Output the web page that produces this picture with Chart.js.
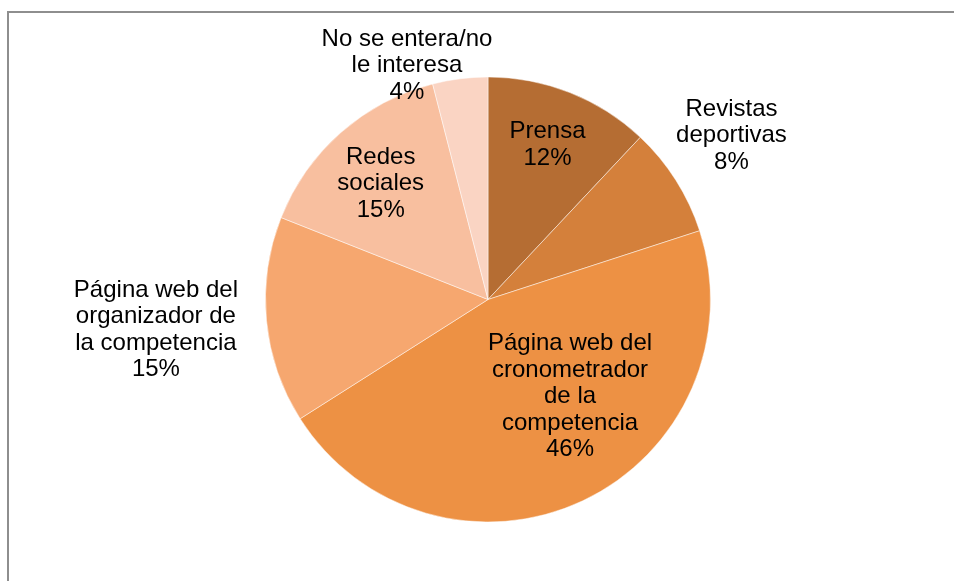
<!DOCTYPE html>
<html>
<head>
<meta charset="utf-8">
<script src="https://cdn.jsdelivr.net/npm/chart.js@4/dist/chart.umd.min.js"></script>
<style>
  html, body { margin: 0; padding: 0; background: #fff; }
  #wrap { position: relative; width: 954px; height: 581px; overflow: hidden; }
  #frame { position: absolute; left: 7px; top: 11px; width: 1000px; height: 700px;
           border-left: 2px solid #8e8e8e; border-top: 2px solid #8e8e8e; box-sizing: border-box; }
  canvas { position: absolute; left: 0; top: 0; }
</style>
</head>
<body>
<div id="wrap">
  <div id="frame"></div>
  <canvas id="c" width="954" height="581"></canvas>
</div>
<script>
// Fuentes de información sobre resultados de la competencia (%)
const categories = [
  ['Prensa'],
  ['Revistas', 'deportivas'],
  ['Página web del', 'cronometrador', 'de la', 'competencia'],
  ['Página web del', 'organizador de', 'la competencia'],
  ['Redes', 'sociales'],
  ['No se entera/no', 'le interesa']
];
const shares = [12, 8, 46, 15, 15, 4];
const sliceColors = ['#B56D33', '#D4803B', '#ED9144', '#F6A76F', '#F8BF9F', '#FAD4C3'];

// label placement: radius as a fraction of the pie radius, and angular shift (deg) from the slice middle
const labelRadius = [0.753, 1.323, 0.566, 1.498, 0.715, 1.119];
const labelShift = [-0.8, -1.8, -15.45, 0.5, -1.0, -11.8];

const FONT_PX = 24;
const LINE_H = 26.5;

const pieLabels = {
  id: 'pieLabels',
  afterDatasetsDraw(chart) {
    const ctx = chart.ctx;
    const meta = chart.getDatasetMeta(0);
    ctx.save();
    ctx.font = FONT_PX + 'px "Liberation Sans", Arial, sans-serif';
    ctx.fillStyle = '#000';
    ctx.textAlign = 'center';
    ctx.textBaseline = 'alphabetic';
    meta.data.forEach((arc, i) => {
      const p = arc.getProps(['x', 'y', 'startAngle', 'endAngle', 'outerRadius'], true);
      const mid = (p.startAngle + p.endAngle) / 2 + labelShift[i] * Math.PI / 180;
      const r = p.outerRadius * labelRadius[i];
      const cx = p.x + Math.cos(mid) * r;
      const cy = p.y + Math.sin(mid) * r;
      const lines = categories[i].concat([shares[i] + '%']);
      const n = lines.length;
      lines.forEach((t, k) => {
        const y = cy + 8.4 + (k - (n - 1) / 2) * LINE_H;
        ctx.fillText(t, cx, y);
      });
    });
    ctx.restore();
  }
};

new Chart(document.getElementById('c'), {
  type: 'pie',
  data: {
    labels: categories.map(c => c.join(' ')),
    datasets: [{
      data: shares,
      backgroundColor: sliceColors,
      borderColor: 'rgba(255,255,255,0.6)',
      borderWidth: 0.8
    }]
  },
  options: {
    responsive: false,
    animation: false,
    radius: 222.5,
    layout: { padding: { left: 265.5, right: 243.5, top: 77, bottom: 59 } },
    plugins: {
      legend: { display: false },
      tooltip: { enabled: false }
    }
  },
  plugins: [pieLabels]
});
</script>
</body>
</html>
